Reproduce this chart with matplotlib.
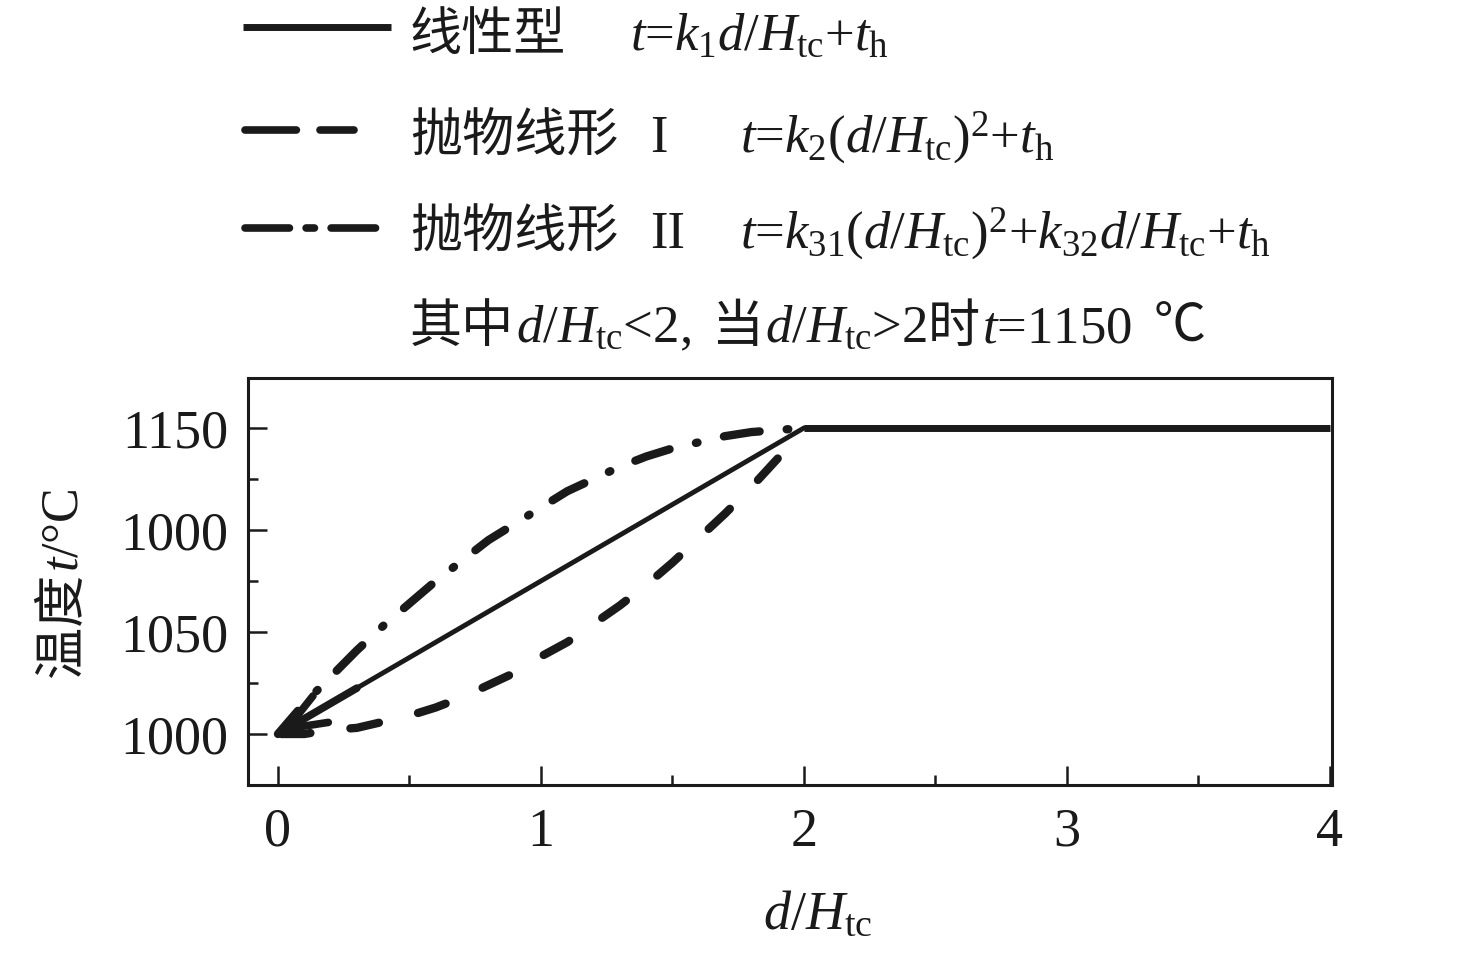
import matplotlib
matplotlib.use('Agg')
import matplotlib.pyplot as plt
from matplotlib.lines import Line2D
from matplotlib.ticker import MultipleLocator, FixedLocator, FixedFormatter

plt.rcParams['font.family'] = ['Liberation Serif', 'Noto Sans CJK SC']
plt.rcParams['mathtext.fontset'] = 'custom'
plt.rcParams['mathtext.rm'] = 'Liberation Serif'
plt.rcParams['mathtext.it'] = 'Liberation Serif:italic'
plt.rcParams['mathtext.bf'] = 'Liberation Serif:bold'
plt.rcParams['lines.scale_dashes'] = False

# ---------------- data ----------------
lin_d = [0, 2, 4]
lin_t = [1000, 1150, 1150]

par1_d = [0.0, 0.1, 0.2, 0.3, 0.4, 0.5, 0.6, 0.7, 0.8, 0.9, 1.0,
          1.1, 1.2, 1.3, 1.4, 1.5, 1.6, 1.7, 1.8, 1.9, 2.0]
par1_t = [1000, 1000, 1002, 1003, 1006, 1009, 1013, 1018, 1024, 1030, 1038,
          1045, 1054, 1063, 1073, 1084, 1096, 1108, 1121, 1135, 1150]

par2_d = [0.0, 0.1, 0.2, 0.3, 0.4, 0.5, 0.6, 0.7, 0.8, 0.9, 1.0,
          1.1, 1.2, 1.3, 1.4, 1.5, 1.6, 1.7, 1.8, 1.9, 2.0]
par2_t = [1000, 1015, 1028, 1041, 1053, 1064, 1075, 1085, 1095, 1103, 1111,
          1119, 1125, 1131, 1136, 1140, 1143, 1146, 1148, 1149, 1150]

x_ticks = [0, 1, 2, 3, 4]
x_labels = ['0', '1', '2', '3', '4']
y_ticks = [1000, 1050, 1100, 1150]
y_labels = ['1000', '1050', '1000', '1150']

leg_names = ['线性型', '抛物线形', '抛物线形']
leg_numerals = ['', 'I', 'II']
leg_formulas = [r'$t$=$k_{\rm 1}d$/$H_{\rm tc}$+$t_{\rm h}$',
                r'$t$=$k_{\rm 2}$($d$/$H_{\rm tc}$)$^{\rm 2}$+$t_{\rm h}$',
                r'$t$=$k_{\rm 31}$($d$/$H_{\rm tc}$)$^{\rm 2}$+$k_{\rm 32}d$/$H_{\rm tc}$+$t_{\rm h}$']
note_pieces = [('其中', 'cjk', 2), (r'$d$/$H_{\rm tc}$<2,', 'lat', 20), ('当', 'cjk', 2),
               (r'$d$/$H_{\rm tc}$>2', 'lat', 0), ('时', 'cjk', 2), (r'$t$=1150', 'lat', 22),
               ('℃', 'cjk', 0)]
x_label = r'$d$/$H_{\rm tc}$'
y_label_pieces = [('温度', 'cjk', 1), (r'$t$/°C', 'lat', 0)]

# ---------------- figure ----------------
W, H = 1476, 961
fig = plt.figure(figsize=(W / 100, H / 100), dpi=100)
ax = fig.add_axes([248 / W, 176 / H, 1084 / W, 407 / H])
ax.set_xlim(-0.114, 4.008)
ax.set_ylim(975, 1174.5)

K = '#1a1a1a'
ax.plot(lin_d, lin_t, color=K, lw=3.5, solid_capstyle='butt', solid_joinstyle='miter', zorder=3)
ax.plot(lin_d[1:], lin_t[1:], color=K, lw=5, solid_capstyle='butt', zorder=3)
ax.annotate('', xy=(lin_d[0], lin_t[0]),
            xytext=(lin_d[0] + 0.15 * (lin_d[1] - lin_d[0]), lin_t[0] + 0.15 * (lin_t[1] - lin_t[0])),
            arrowprops=dict(arrowstyle='->,head_length=1.4,head_width=0.55', lw=5.5,
                            color=K, shrinkA=0, shrinkB=0, mutation_scale=20,
                            capstyle='round', joinstyle='round'), zorder=4)
ax.plot(par1_d, par1_t, color=K, lw=6, linestyle=(47.6, (21, 29)),
        dash_capstyle='round', solid_capstyle='round')
ax.plot(par2_d, par2_t, color=K, lw=6, linestyle=(4, (26, 19.5, 1.2, 19.5)),
        dash_capstyle='round', solid_capstyle='round')

for s in ax.spines.values():
    s.set_linewidth(2.2)
    s.set_color(K)

ax.xaxis.set_major_locator(FixedLocator(x_ticks))
ax.xaxis.set_major_formatter(FixedFormatter(x_labels))
ax.yaxis.set_major_locator(FixedLocator(y_ticks))
ax.yaxis.set_major_formatter(FixedFormatter(y_labels))
ax.xaxis.set_minor_locator(MultipleLocator(0.5))
ax.yaxis.set_minor_locator(MultipleLocator(25))
ax.tick_params(which='both', direction='in', width=1.8, color=K, labelcolor=K)
ax.tick_params(which='major', length=14, labelsize=39)
ax.tick_params(which='minor', length=7)
ax.tick_params(axis='x', which='major', pad=16)
ax.tick_params(axis='y', which='major', pad=14)

ax.text(0.526, -0.32, x_label, transform=ax.transAxes, ha='center', va='center',
        fontsize=39, color=K)

renderer = fig.canvas.get_renderer()
CJK = dict(family='Noto Sans CJK SC', fontsize=37.5, color=K)
LAT = dict(fontsize=38, color=K)


def fy(y):
    return 1 - y / H


def place_row(x0, ybase, pieces):
    x = x0
    for txt, kind, gap in pieces:
        kw = CJK if kind == 'cjk' else LAT
        t = fig.text(x / W, fy(ybase), txt, ha='left', va='baseline', **kw)
        x += t.get_window_extent(renderer).width + gap


def place_vertical(xbase, y0, pieces):
    y = y0
    for txt, kind, gap in pieces:
        kw = dict(CJK) if kind == 'cjk' else dict(LAT)
        kw['fontsize'] = 37.5
        t = fig.text(xbase / W, fy(y), txt, ha='left', va='baseline', rotation=90,
                     rotation_mode='anchor', **kw)
        y -= t.get_window_extent(renderer).height + gap


place_vertical(77, 677, y_label_pieces)

# ---------------- legend ----------------
fig.add_artist(Line2D([243 / W, 391 / W], [fy(27)] * 2, lw=5, color=K, solid_capstyle='butt'))
fig.add_artist(Line2D([245 / W, 354 / W], [fy(130)] * 2, lw=5.5, color=K,
                      linestyle=(0, (37, 17)), dash_capstyle='round'))
fig.add_artist(Line2D([245 / W, 379 / W], [fy(228)] * 2, lw=5.5, color=K,
                      linestyle=(0, (32, 12, 6, 12)), dash_capstyle='round'))

bases = [50, 152, 248]
f_x = [630, 740, 740]
for i in range(3):
    fig.text(410 / W, fy(bases[i]), leg_names[i], ha='left', va='baseline', **CJK)
    if leg_numerals[i]:
        fig.text(650 / W, fy(bases[i]), leg_numerals[i], ha='left', va='baseline', **LAT)
    fig.text(f_x[i] / W, fy(bases[i]), leg_formulas[i], ha='left', va='baseline', **LAT)
place_row(410, 342, note_pieces)

fig.savefig('out.png', dpi=100)
